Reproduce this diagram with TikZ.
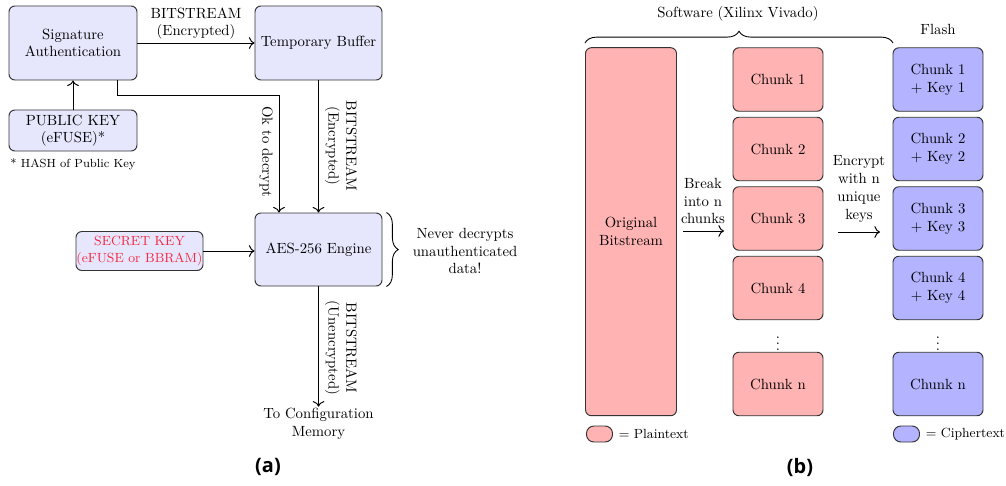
\documentclass[tikz,border=0pt]{standalone}
\usepackage{fontspec}
\newfontfamily\capfont{Open Sans}
\usetikzlibrary{decorations.pathreplacing,arrows.meta}
\newlength\pxu
\setlength\pxu{0.678pt}
\definecolor{keyred}{RGB}{245,40,65}
\definecolor{lav}{RGB}{230,230,252}
\definecolor{pinkc}{RGB}{255,179,179}
\definecolor{bluec}{RGB}{179,179,255}
\begin{document}
\begin{tikzpicture}[x=\pxu,y=-\pxu,
  box/.style={draw=black!80, line width=0.65pt, rounded corners=4pt, fill=lav, align=center, inner sep=0pt},
  pbox/.style={box, fill=pinkc},
  cbox/.style={box, fill=bluec},
  chunk/.style={minimum width=90*\pxu, minimum height=63.5*\pxu},
  arr/.style={-{To[scale=1.25]}, line width=0.65pt},
  lbl/.style={align=center, inner sep=1pt},
  capstyle/.style={font=\capfont\bfseries\fontsize{13.5}{15}\selectfont},
  brc/.style={decorate, decoration={brace, amplitude=8pt}, line width=0.6pt}]
\useasboundingbox (0,0) rectangle (1006,485);

% ---------- (a) ----------
\node[box, minimum width=128*\pxu, minimum height=74*\pxu] (sig) at (73,43) {Signature\\Authentication};
\node[box, minimum width=127*\pxu, minimum height=74*\pxu] (buf) at (318.5,43) {Temporary Buffer};
\node[box, minimum width=128*\pxu, minimum height=41*\pxu] (pub) at (73,130.5) {PUBLIC KEY\\(eFUSE)*};
\node[lbl] (hash) at (73,164) {\footnotesize * HASH of Public Key};
\node[box, minimum width=127*\pxu, minimum height=73*\pxu] (aes) at (318.5,249.5) {AES-256 Engine};
\node[box, minimum width=127*\pxu, minimum height=39*\pxu, text=keyred, font=\small] (sec) at (139.5,251) {SECRET KEY\\(eFUSE or BBRAM)};
\node[lbl] (cfg) at (318.5,424) {To Configuration\\Memory};

\draw[arr] (sig) -- (buf) node[midway, above, lbl, yshift=1pt] {BITSTREAM\\(Encrypted)};
\draw[arr] (pub) -- (sig);
\coordinate (okA) at (117,95);
\coordinate (okB) at (279,95);
\draw[arr] (sig.south -| okA) -- (okA) -- (okB) -- (aes.north -| okB);
\node[lbl, rotate=-90] (oklbl) at (266,152) {Ok to decrypt};
\draw[arr] (buf) -- (aes);
\node[lbl, rotate=-90] (enclbl) at (341,146) {BITSTREAM\\(Encrypted)};
\draw[arr] (sec) -- (sec -| aes.west);
\draw[arr] (aes) -- (cfg);
\node[lbl, rotate=-90] (unlbl) at (341,348) {BITSTREAM\\(Unencrypted)};
\draw[brc] ([xshift=4*\pxu]aes.north east) -- ([xshift=4*\pxu]aes.south east);
\node[lbl] (never) at (465,251) {Never decrypts\\unauthenticated\\data!};
\node[capstyle] (capa) at (268,467) {(a)};

% ---------- (b) ----------
\node[pbox, minimum width=91*\pxu, minimum height=368*\pxu] (orig) at (631,231.7) {Original\\Bitstream};
\node[pbox, chunk] (c1) at (778,79.5) {Chunk 1};
\node[pbox, chunk] (c2) at (778,149) {Chunk 2};
\node[pbox, chunk] (c3) at (778,218.5) {Chunk 3};
\node[pbox, chunk] (c4) at (778,288) {Chunk 4};
\node[inner sep=0pt] (cd) at (778,339) {$\vdots$};
\node[pbox, chunk] (cn) at (778,384) {Chunk n};
\node[cbox, chunk] (f1) at (938,79.5) {Chunk 1\\+ Key 1};
\node[cbox, chunk] (f2) at (938,149) {Chunk 2\\+ Key 2};
\node[cbox, chunk] (f3) at (938,218.5) {Chunk 3\\+ Key 3};
\node[cbox, chunk] (f4) at (938,288) {Chunk 4\\+ Key 4};
\node[inner sep=0pt] (fd) at (938,339) {$\vdots$};
\node[cbox, chunk] (fn) at (938,384) {Chunk n};

\coordinate (b1) at (683,231);
\coordinate (b2) at (724,231);
\draw[arr] (b1) -- (b2);
\node[lbl] (brk) at (703,201) {Break\\into n\\chunks};
\coordinate (e1) at (838,232);
\coordinate (e2) at (880,232);
\draw[arr] (e1) -- (e2);
\node[lbl] (enc) at (859,189) {Encrypt\\with n\\unique\\keys};

\draw[brc] (585,43) -- (893,43);
\node[lbl] (sw) at (738,14) {Software (Xilinx Vivado)};
\node[lbl] (flash) at (938,29) {Flash};

\node[pbox, minimum width=26*\pxu, minimum height=16*\pxu, rounded corners=5pt] (lp) at (599.5,434) {};
\node[lbl, anchor=west, font=\small] (lpt) at ([xshift=4*\pxu]lp.east) {= Plaintext};
\node[cbox, minimum width=26*\pxu, minimum height=16*\pxu, rounded corners=5pt] (lc) at (906.5,434) {};
\node[lbl, anchor=west, font=\small] (lct) at ([xshift=4*\pxu]lc.east) {= Ciphertext};
\node[capstyle] (capb) at (800,467) {(b)};
\end{tikzpicture}
\end{document}
